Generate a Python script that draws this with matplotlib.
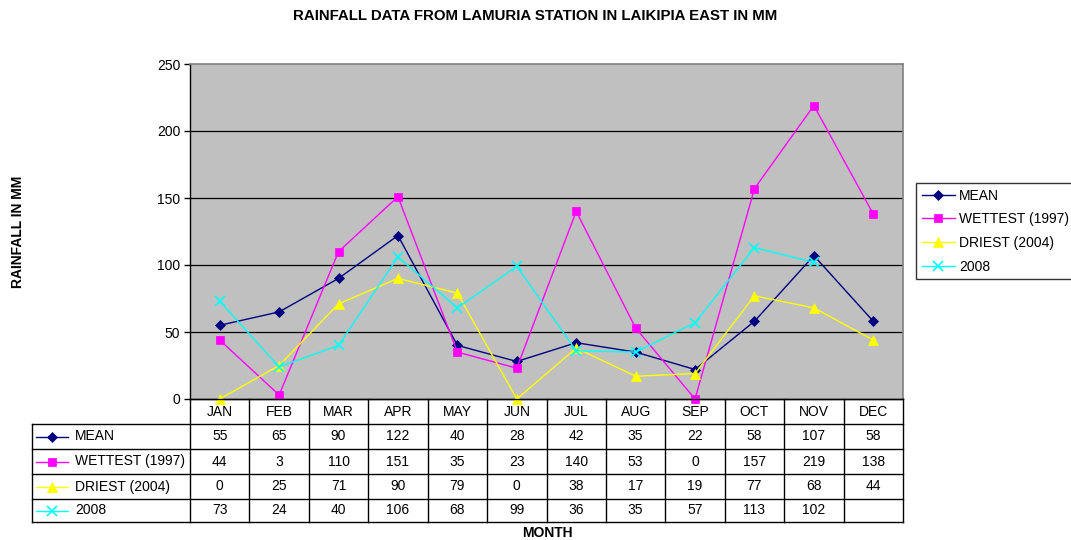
import numpy as np
import matplotlib
matplotlib.use("Agg")
import matplotlib.pyplot as plt
from matplotlib.lines import Line2D

plt.rcParams['font.family'] = ['Liberation Sans', 'DejaVu Sans']

months = ["JAN", "FEB", "MAR", "APR", "MAY", "JUN", "JUL", "AUG", "SEP", "OCT", "NOV", "DEC"]
series_names = ["MEAN", "WETTEST (1997)", "DRIEST (2004)", "2008"]
mean_vals = [55, 65, 90, 122, 40, 28, 42, 35, 22, 58, 107, 58]
wettest_vals = [44, 3, 110, 151, 35, 23, 140, 53, 0, 157, 219, 138]
driest_vals = [0, 25, 71, 90, 79, 0, 38, 17, 19, 77, 68, 44]
y2008_vals = [73, 24, 40, 106, 68, 99, 36, 35, 57, 113, 102, None]
yticks = [0, 50, 100, 150, 200, 250]

all_series = [mean_vals, wettest_vals, driest_vals, y2008_vals]
colors = ["#000080", "#FF00FF", "#FFFF00", "#00FFFF"]
markers = ["D", "s", "^", "x"]
msizes = [5, 6, 7, 7]

W, H = 1071, 540
fig = plt.figure(figsize=(W / 100, H / 100), dpi=100)
L, R, T, B = 190, 903, 64, 399
ax = fig.add_axes([L / W, 1 - B / H, (R - L) / W, (B - T) / H])
ax.set_facecolor("#C0C0C0")

x = np.arange(len(months))
for vals, c, m, ms, name in zip(all_series, colors, markers, msizes, series_names):
    y = np.array([np.nan if v is None else v for v in vals], dtype=float)
    ax.plot(x, y, color=c, marker=m, markersize=ms, lw=1, label=name,
            markeredgewidth=1.2 if m == "x" else 0.5, markeredgecolor=c, clip_on=False, zorder=3)

ax.set_xlim(-0.5, len(months) - 0.5)
ax.set_ylim(0, 250)
ax.set_yticks(yticks)
ax.set_yticklabels([str(t) for t in yticks], fontsize=10)
ax.set_xticks([])
for t in yticks[1:-1]:
    ax.axhline(t, color="black", lw=0.9, zorder=1)
for s in ["left", "bottom"]:
    ax.spines[s].set_color("black")
    ax.spines[s].set_linewidth(1)
for s in ["top", "right"]:
    ax.spines[s].set_color("#808080")
    ax.spines[s].set_linewidth(1.2)
ax.tick_params(axis="y", length=4, width=1, pad=3)

# Table below the plot
def fx(px):
    return px / W

def fy(py):
    return 1 - py / H

row_tops = [399, 424, 449, 474, 499, 522]
col_w = (R - L) / len(months)
label_left = 32
line_kw = dict(color="black", lw=1, transform=fig.transFigure)

fig.add_artist(Line2D([fx(L), fx(R)], [fy(row_tops[0]), fy(row_tops[0])], **line_kw))
for ry in row_tops[1:]:
    fig.add_artist(Line2D([fx(label_left), fx(R)], [fy(ry), fy(ry)], **line_kw))
for i in range(len(months) + 1):
    xx = L + i * col_w
    fig.add_artist(Line2D([fx(xx), fx(xx)], [fy(row_tops[0]), fy(row_tops[-1])], **line_kw))
fig.add_artist(Line2D([fx(label_left), fx(label_left)], [fy(row_tops[1]), fy(row_tops[-1])], **line_kw))

for i, mname in enumerate(months):
    cx = L + (i + 0.5) * col_w
    fig.text(fx(cx), fy((row_tops[0] + row_tops[1]) / 2), mname, ha="center", va="center", fontsize=10)

for r, (vals, c, m, ms, name) in enumerate(zip(all_series, colors, markers, msizes, series_names)):
    cy = (row_tops[r + 1] + row_tops[r + 2]) / 2
    fig.add_artist(Line2D([fx(36), fx(68)], [fy(cy), fy(cy)], color=c, lw=1, transform=fig.transFigure))
    fig.add_artist(Line2D([fx(52)], [fy(cy)], color=c, marker=m, markersize=ms,
                          markeredgecolor=c, markeredgewidth=1.2 if m == "x" else 0.5,
                          transform=fig.transFigure))
    fig.text(fx(75), fy(cy), name, ha="left", va="center", fontsize=10)
    for i, v in enumerate(vals):
        if v is None:
            continue
        cx = L + (i + 0.5) * col_w
        fig.text(fx(cx), fy(cy), str(v), ha="center", va="center", fontsize=10)

leg = fig.legend(loc="upper left", bbox_to_anchor=(fx(916), fy(183)), fontsize=10,
                 frameon=True, fancybox=False, edgecolor="black", handlelength=2.4,
                 handletextpad=0.3, borderpad=0.4, labelspacing=0.7, borderaxespad=0)
leg.get_frame().set_linewidth(1)

fig.text(fx(535), fy(16), "RAINFALL DATA FROM LAMURIA STATION IN LAIKIPIA EAST IN MM",
         ha="center", va="center", fontsize=10.8, fontweight="bold")
fig.text(fx(18), fy(232), "RAINFALL IN MM", ha="center", va="center", rotation=90,
         fontsize=10, fontweight="bold")
fig.text(fx(547), fy(533), "MONTH", ha="center", va="center", fontsize=10, fontweight="bold")

fig.savefig("out.png", dpi=100)
